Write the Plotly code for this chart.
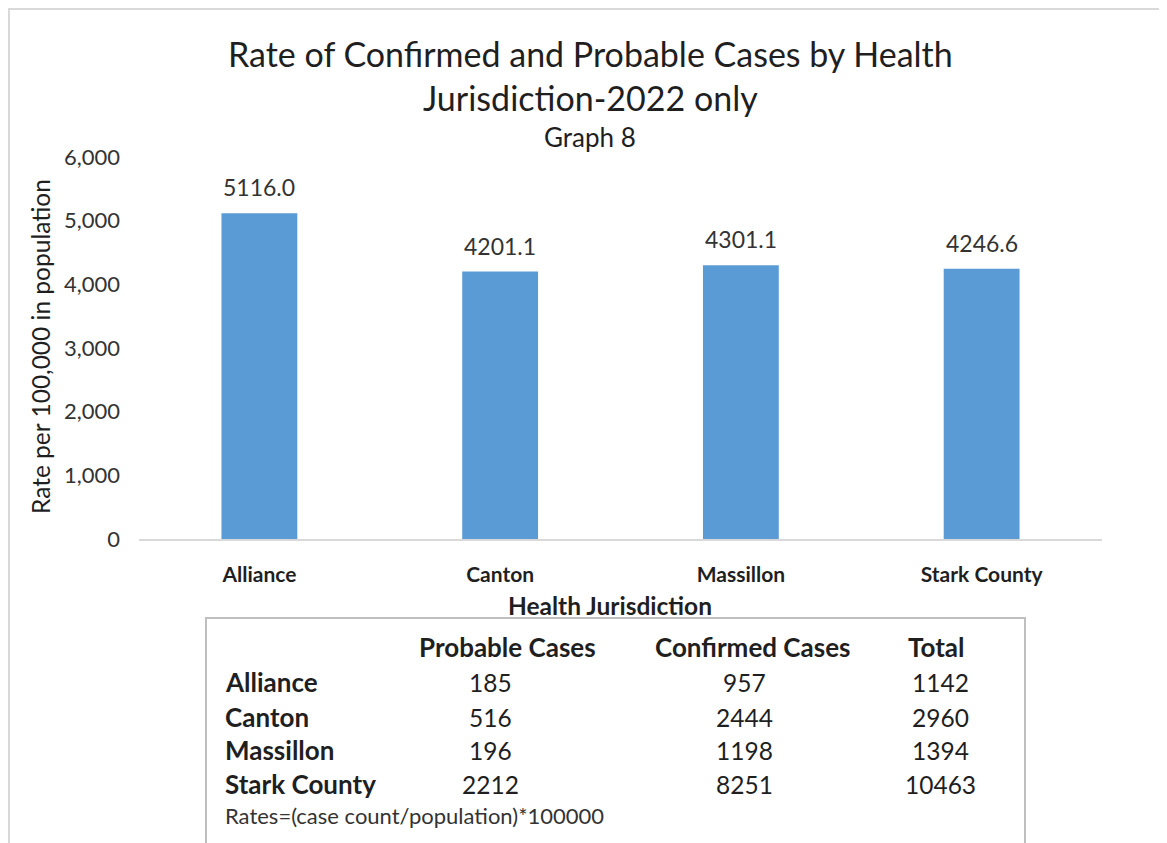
import plotly.graph_objects as go

jurisdictions = ['Alliance', 'Canton', 'Massillon', 'Stark County']
rates = [5116.0, 4201.1, 4301.1, 4246.6]

table_header = ['Probable Cases', 'Confirmed Cases', 'Total']
probable = [185, 516, 196, 2212]
confirmed = [957, 2444, 1198, 8251]
totals = [1142, 2960, 1394, 10463]

FONT = 'Lato'
DARK = '#1f1f1f'
# page puts the plot div 8px in from the corner, so work in page pixels
OFF = 8
W, H = 1167 - OFF, 843 - OFF
# plot area in page pixels: x 139..1102, y 157..539
L, R, T, B = 139, 1102, 157, 539


def px(x):
	return (x - L) / (R - L)


def py(y):
	return (B - y) / (B - T)


def label(x, y, text, size, anchor = 'center', color = DARK, **kw):
	return dict(x = px(x), y = py(y), xref = 'paper', yref = 'paper',
		text = text, showarrow = False, xanchor = anchor, yanchor = 'middle',
		font = dict(family = FONT, size = size, color = color), **kw)


fig = go.Figure()
fig.add_trace(go.Bar(
	x = jurisdictions,
	y = rates,
	marker = dict(color = '#5B9BD5', line = dict(width = 0)),
	hoverinfo = 'x+y',
))

ann = []
# value labels, lifted a bit above each bar like the original
for j, r in zip(jurisdictions, rates):
	ann.append(dict(x = j, y = r, xref = 'x', yref = 'y', text = f'{r:.1f}',
		showarrow = False, yanchor = 'middle', yshift = 26,
		font = dict(family = FONT, size = 23, color = '#333333')))

ann += [
	label(590, 75, 'Rate of Confirmed and Probable Cases by Health<br>Jurisdiction-2022 only', 34),
	label(590, 137, 'Graph 8', 26),
	label(40, 347, 'Rate per 100,000 in population', 24.5, textangle = -90),
	label(610, 605, '<b>Health Jurisdiction</b>', 24.5),
]

# table inside the box
col_x = [507, 752, 936]
val_x = [490, 744, 940]
row_y = [682, 717, 750, 784]
for cx, h in zip(col_x, table_header):
	ann.append(label(cx, 647, f'<b>{h}</b>', 26))
for i, name in enumerate(jurisdictions):
	ann.append(label(223, row_y[i], f'<b>{name}</b>', 26, anchor = 'left'))
	for cx, vals in zip(val_x, [probable, confirmed, totals]):
		ann.append(label(cx, row_y[i], str(vals[i]), 24.5))
ann.append(label(223, 815, 'Rates=(case count/population)*100000', 22,
	anchor = 'left', color = '#333333'))

shapes = [
	# outer chart border
	dict(type = 'rect', xref = 'paper', yref = 'paper',
		x0 = px(OFF + 1), x1 = px(1200), y0 = py(900), y1 = py(OFF + 1),
		line = dict(color = '#D9D9D9', width = 2), layer = 'below'),
	# table box
	dict(type = 'rect', xref = 'paper', yref = 'paper',
		x0 = px(206), x1 = px(1025), y0 = py(900), y1 = py(618),
		line = dict(color = '#BFBFBF', width = 2), layer = 'below'),
]

fig.update_layout(
	width = W, height = H,
	margin = dict(l = L - OFF, r = W - (R - OFF), t = T - OFF, b = H - (B - OFF)),
	plot_bgcolor = 'white', paper_bgcolor = 'white',
	showlegend = False,
	bargap = 0.685,
	annotations = ann,
	shapes = shapes,
	xaxis = dict(
		showgrid = False, showline = True, linecolor = '#D9D9D9', linewidth = 2,
		ticks = '', ticklabelstandoff = 16,
		tickfont = dict(family = FONT, size = 21, color = DARK),
		tickvals = jurisdictions,
		ticktext = [f'<b>{j}</b>' for j in jurisdictions],
	),
	yaxis = dict(
		range = [0, 6000], dtick = 1000, tickformat = ',',
		showgrid = False, showline = False, zeroline = False,
		ticks = '', ticklabelstandoff = 18,
		tickfont = dict(family = FONT, size = 22, color = '#333333'),
	),
)

fig.write_html('out.html')
